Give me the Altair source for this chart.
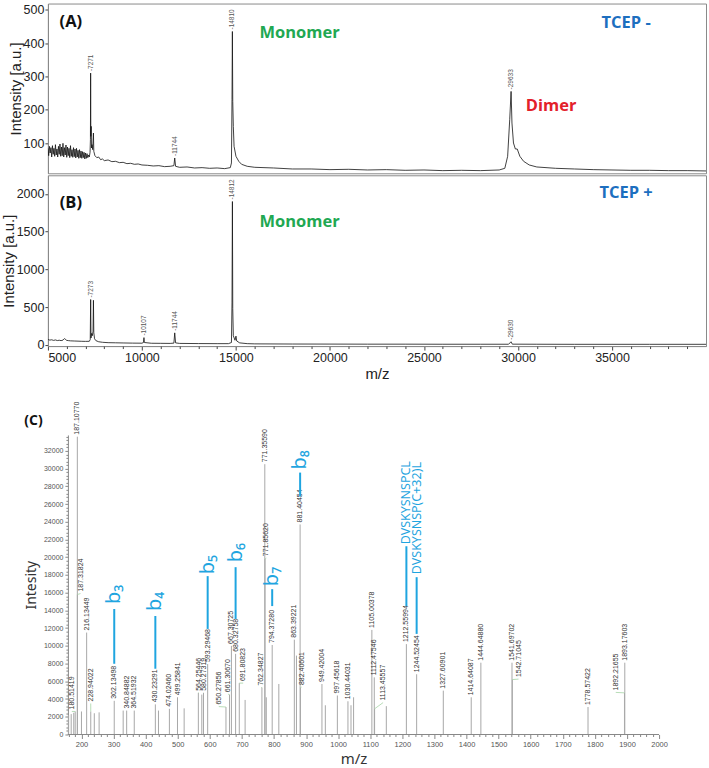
import altair as alt
import pandas as pd

# ---------------- Panel (A): TCEP - ----------------
a_mz = [5000, 5040, 5080, 5120, 5160, 5200, 5240, 5280, 5320, 5360, 5400, 5440, 5480, 5520, 5560,
        5600, 5640, 5680, 5720, 5760, 5800, 5840, 5880, 5920, 5960, 6000, 6040, 6080, 6120, 6160,
        6200, 6240, 6280, 6320, 6360, 6400, 6440, 6480, 6520, 6560, 6600, 6640, 6680, 6720, 6760,
        6800, 6840, 6880, 6920, 6960, 7000, 7040, 7080, 7120, 7160, 7200, 7240, 7260, 7271, 7282,
        7300, 7320, 7345, 7380, 7420, 7440, 7500, 7600, 7700, 7800, 7900, 8000, 8200, 8400, 8600,
        8800, 9000, 9200, 9400, 9600, 9800, 10000, 10300, 10600, 10900, 11200, 11500, 11700, 11744, 11790,
        12000, 12400, 12800, 13200, 13600, 14000, 14400, 14700, 14760, 14790, 14810, 14830, 14860, 14900, 15000,
        15150, 15300, 15600, 16000, 17000, 18000, 19000, 20000, 21000, 22000, 23000, 24000, 25000, 26000, 27000,
        28000, 29000, 29300, 29450, 29560, 29633, 29680, 29760, 29860, 29960, 30100, 30300, 30600, 31000, 32000,
        33000, 34000, 35000, 36000, 37000, 38000, 39000, 40000]
a_int = [84, 62, 90, 70, 86, 58, 92, 66, 84, 60, 95, 64, 82, 58, 90,
         66, 97, 60, 88, 62, 99, 58, 86, 64, 94, 57, 88, 62, 84, 56,
         92, 60, 80, 57, 86, 59, 82, 55, 84, 58, 78, 54, 80, 56, 76,
         54, 74, 56, 72, 52, 70, 54, 68, 56, 64, 58, 72, 110, 310, 120,
         150, 85, 95, 80, 130, 75, 62, 56, 58, 50, 52, 47, 49, 44, 45,
         41, 42, 38, 39, 36, 37, 34, 33, 31, 32, 29, 30, 32, 55, 30,
         27, 28, 25, 26, 24, 25, 23, 26, 40, 230, 435, 225, 150, 90, 60,
         45, 36, 30, 27, 25, 22, 22, 20, 21, 19, 20, 18, 19, 17, 18,
         17, 19, 24, 60, 170, 255, 160, 100, 82, 82, 60, 45, 34, 28, 24,
         22, 20, 19, 18, 18, 17, 17, 16]
a_peak_mz = [7271, 11744, 14810, 29633]
a_peak_int = [310, 55, 435, 255]
a_peak_text = ["-7271", "-11744", "-14810", "-29633"]

# ---------------- Panel (B): TCEP + ----------------
b_mz = [5000, 5100, 5200, 5300, 5400, 5500, 5600, 5700, 5800, 5880, 5950, 6000, 6100, 6200, 6400,
        6600, 6800, 7000, 7200, 7250, 7273, 7290, 7320, 7360, 7400, 7420, 7440, 7480, 7550, 7700,
        7900, 8200, 8600, 9000, 9500, 10000, 10080, 10107, 10130, 10500, 11000, 11500, 11700, 11744, 11790,
        12000, 13000, 14000, 14600, 14760, 14790, 14812, 14830, 14860, 14950, 15000, 15040, 15200, 15600, 16000,
        18000, 20000, 22000, 24000, 26000, 28000, 29500, 29630, 29700, 31000, 33000, 35000, 37000, 40000]
b_int = [70, 62, 66, 58, 64, 56, 60, 55, 62, 82, 68, 58, 55, 52, 50,
         48, 46, 45, 46, 70, 600, 90, 150, 120, 180, 590, 160, 80, 55, 40,
         33, 28, 26, 24, 22, 21, 30, 95, 30, 20, 19, 18, 22, 158, 25,
         18, 16, 15, 15, 30, 555, 1900, 480, 120, 60, 115, 50, 25, 15, 12,
         10, 9, 8, 8, 7, 7, 7, 40, 8, 7, 6, 6, 6, 6]
b_peak_mz = [7273, 10107, 11744, 14812, 29630]
b_peak_int = [600, 95, 158, 1900, 40]
b_peak_text = ["-7273", "-10107", "-11744", "-14812", "-29630"]

# panel annotations (data coordinates)
a_note_text = ["(A)", "Monomer", "TCEP -", "Dimer"]
a_note_mz = [6221, 18383, 35750, 31765]
a_note_int = [465, 430, 462, 212]
b_note_text = ["(B)", "Monomer", "TCEP +"]
b_note_mz = [6221, 18383, 35750]
b_note_int = [1877, 1632, 2009]
note_colors = {"(A)": "#111111", "(B)": "#111111", "Monomer": "#21a852",
               "TCEP -": "#1d6fbf", "TCEP +": "#1d6fbf", "Dimer": "#e3202a"}

# axis tick values
ab_major_x = [5000, 10000, 15000, 20000, 25000, 30000, 35000]
ab_minor_x = [v for v in range(6000, 40000, 1000) if v % 5000 != 0]

# ---------------- Panel (C): MS/MS ----------------
c_lab_text = ["180.51419", "187.10770", "187.31824", "216.13449", "228.94022", "302.13498", "340.84882",
              "364.51932", "430.23291", "474.02460", "499.25841", "564.25446", "580.27319", "593.29468",
              "650.27856", "661.30670", "667.30725", "680.32758", "691.80823", "762.34827", "771.35590",
              "771.85620", "794.37280", "863.39221", "881.40454", "882.40601", "949.42004", "997.45618",
              "1030.44031", "1105.00378", "1112.47546", "1113.45557", "1212.55994", "1244.52454",
              "1327.60901", "1414.64087", "1444.64880", "1541.69702", "1542.71045", "1778.57422",
              "1892.21655", "1893.17603"]
c_lab_mz = [180.51419, 187.10770, 187.31824, 216.13449, 228.94022, 302.13498, 340.84882,
            364.51932, 430.23291, 474.02460, 499.25841, 564.25446, 580.27319, 593.29468,
            650.27856, 661.30670, 667.30725, 680.32758, 691.80823, 762.34827, 771.35590,
            771.85620, 794.37280, 863.39221, 881.40454, 882.40601, 949.42004, 997.45618,
            1030.44031, 1105.00378, 1112.47546, 1113.45557, 1212.55994, 1244.52454,
            1327.60901, 1414.64087, 1444.64880, 1541.69702, 1542.71045, 1778.57422,
            1892.21655, 1893.17603]
c_lab_int = [2600, 33600, 15800, 11500, 2600, 3800, 2700,
             2700, 3400, 2900, 4200, 4700, 4700, 7950,
             3100, 4500, 10000, 9100, 5800, 5300, 30500,
             19800, 10100, 10700, 23700, 5300, 5700, 4400,
             3750, 11800, 6450, 2900, 10200, 6800,
             4950, 4200, 8100, 8100, 6200, 3100,
             4700, 8100]
# where each peak label sits (m/z, intensity)
c_lab_x = [170, 187.1, 197, 216.1, 228.9, 302.1, 340.8,
           364.5, 430.2, 474.0, 499.3, 566, 581, 593.3,
           628, 657, 667.3, 680.3, 704, 760, 771.4,
           776, 794.4, 863.4, 881.4, 886, 949.4, 997.5,
           1030.4, 1105.0, 1112.5, 1140, 1212.6, 1244.5,
           1327.6, 1414.6, 1444.6, 1541.7, 1562, 1778.6,
           1865, 1893.2]
c_lab_y = [2600, 33600, 15900, 11500, 3500, 3800, 2700,
           2700, 3400, 2900, 4200, 4700, 4700, 7950,
           3150, 4550, 10000, 9100, 5800, 5300, 30500,
           19900, 10100, 10700, 23700, 5350, 5700, 4400,
           3750, 11800, 6450, 3600, 10200, 6800,
           4950, 4200, 8100, 8100, 6250, 3100,
           4750, 8100]
c_other_mz = [160, 168, 176, 200, 240, 255, 330, 440, 520, 575, 710, 776, 815, 870, 960, 1040, 1048, 1150]
c_other_int = [2200, 2300, 2450, 2600, 2400, 2500, 2700, 2700, 2950, 4500, 3900, 4200, 5700, 8900, 3300, 3300, 4200, 3200]

ann_text = ["b\u2083", "b\u2084", "b\u2085", "b\u2086", "b\u2087", "b\u2088",
            "DVSKYSNSPCL", "DVSKYSNSP(C+32)L"]
ann_mz = [302.13, 430.23, 593.29, 680.33, 794.37, 881.40, 1212.56, 1244.52]
ann_line_lo = [7980, 7420, 11910, 13030, 14490, 26850, 14490, 11350]
ann_line_hi = [14160, 13370, 17870, 18880, 16400, 29550, 21240, 17750]
ann_text_y = [14720, 13930, 18090, 19440, 16740, 29890, 21460, 18090]

c_major_x = list(range(200, 2001, 100))
c_minor_x = [v for v in range(160, 2000, 20) if v % 100 != 0]
c_major_y = list(range(0, 32001, 2000))
c_minor_y = [v for v in range(400, 33601, 400) if v % 2000 != 0]

c_axis_start = 157.4
c_panel_label = "(C)"
c_panel_label_mz = 50.4
c_panel_label_int = 35400

# ================= build =================
W = 659
xAB = alt.Scale(domain=[5000, 40000], nice=False, zero=False)
yA = alt.Scale(domain=[9, 519], nice=False, zero=False)
yB = alt.Scale(domain=[-17, 2248], nice=False, zero=False)
LAB_FONT = "Liberation Sans"
C_FONT = "Noto Sans"


def yaxis_ab(values):
    return alt.Axis(values=values, title="Intensity [a.u.]", labelFontSize=12.5, titleFontSize=15,
                    tickSize=3, labelPadding=1, titlePadding=0, grid=False, domainColor="#8a8a8a",
                    tickColor="#444444", labelColor="#222222", titleColor="#222222",
                    titleFontWeight="normal", labelFont=LAB_FONT, titleFont=LAB_FONT, format="d",
                    labelOverlap=False)


dfA = pd.DataFrame({"mz": a_mz, "inten": a_int})
dfA_pk = pd.DataFrame({"mz": a_peak_mz, "inten": a_peak_int, "t": a_peak_text})
dfA_nt = pd.DataFrame({"mz": a_note_mz, "inten": a_note_int, "t": a_note_text})
dfA_nt["c"] = dfA_nt["t"].map(note_colors)

dfB = pd.DataFrame({"mz": b_mz, "inten": b_int})
dfB_pk = pd.DataFrame({"mz": b_peak_mz, "inten": b_peak_int, "t": b_peak_text})
dfB_nt = pd.DataFrame({"mz": b_note_mz, "inten": b_note_int, "t": b_note_text})
dfB_nt["c"] = dfB_nt["t"].map(note_colors)

xaxisB = alt.Axis(values=ab_major_x, format="d", labelFontSize=12.5, labelColor="#222222",
                  labelFont=LAB_FONT, labelOverlap=False, tickSize=4, tickColor="#444444",
                  domainColor="#8a8a8a", grid=False, labelPadding=1,
                  title="m/z", titleFontSize=15, titleFontWeight="normal", titleFont=LAB_FONT,
                  titleColor="#222222", titlePadding=3, orient="bottom")
xaxisB_minor = alt.Axis(values=ab_minor_x, labels=False, domain=False, tickSize=2.5,
                        tickColor="#444444", grid=False, title=None, orient="bottom")


def spectrum_panel(df, dfpk, dfnt, yscale, yvalues, with_x):
    xax = xaxisB if with_x else None
    line = alt.Chart(df).mark_line(color="#111111", strokeWidth=0.8, clip=True).encode(
        x=alt.X("mz:Q", scale=xAB, axis=xax, title="m/z"),
        y=alt.Y("inten:Q", scale=yscale, axis=yaxis_ab(yvalues)),
    )
    pk = alt.Chart(dfpk).mark_text(angle=270, align="left", baseline="middle", dx=2,
                                   fontSize=6.5, color="#555555", font=LAB_FONT).encode(
        x=alt.X("mz:Q", scale=xAB, axis=None), y=alt.Y("inten:Q", scale=yscale), text="t:N")
    nt = alt.Chart(dfnt).mark_text(align="center", baseline="middle", fontSize=16.5,
                                   fontWeight="bold", font="Open Sans").encode(
        x=alt.X("mz:Q", scale=xAB, axis=None), y=alt.Y("inten:Q", scale=yscale), text="t:N",
        color=alt.Color("c:N", scale=None))
    layers = [line, pk, nt]
    if with_x:
        minor = alt.Chart(pd.DataFrame({"mz": ab_minor_x})).mark_point(opacity=0).encode(
            x=alt.X("mz:Q", scale=xAB, axis=xaxisB_minor))
        layers.append(minor)
    lay = alt.layer(*layers)
    if with_x:
        lay = lay.resolve_axis(x="independent")
    return lay.properties(width=W, view=alt.ViewBackground(stroke="#8a8a8a", strokeWidth=1))


panelA = spectrum_panel(dfA, dfA_pk, dfA_nt, yA, [100, 200, 300, 400, 500], False).properties(height=170)
panelB = spectrum_panel(dfB, dfB_pk, dfB_nt, yB, [0, 500, 1000, 1500, 2000], True).properties(height=171)

# ---- panel C
WC = 612
xC = alt.Scale(domain=[95.5, 2000], nice=False, zero=False)
yC = alt.Scale(domain=[0, 33800], nice=False, zero=False)

xaxisC = alt.Axis(values=c_major_x, format="d", labelFontSize=7.5, labelColor="#555555",
                  labelFont=LAB_FONT, labelOverlap=False, labelFlush=False, domain=False,
                  tickSize=4, tickColor="#888888", grid=False, labelPadding=2,
                  title="m/z", titleFontSize=15, titleFontWeight="normal", titleFont=C_FONT,
                  titleColor="#333333", titlePadding=4, orient="bottom")
xaxisC_minor = alt.Axis(values=c_minor_x, labels=False, domain=False, tickSize=2,
                        tickColor="#888888", grid=False, title=None, orient="bottom")
yaxisC = alt.Axis(values=c_major_y, format="d", labelFontSize=7, labelColor="#555555",
                  labelFont=LAB_FONT, labelOverlap=False, tickSize=3, tickColor="#888888",
                  domainColor="#888888", grid=False, labelPadding=2, offset=-20,
                  title="Intesity", titleFontSize=14, titleFontWeight="normal", titleFont=C_FONT,
                  titleColor="#333333", titlePadding=5, orient="left")
yaxisC_minor = alt.Axis(values=c_minor_y, labels=False, domain=False, tickSize=2, offset=-20,
                        tickColor="#888888", grid=False, title=None, orient="left")

df_lab = pd.DataFrame({"mz": c_lab_mz, "inten": c_lab_int, "t": c_lab_text,
                       "lx": c_lab_x, "ly": c_lab_y})
df_other = pd.DataFrame({"mz": c_other_mz, "inten": c_other_int})
df_peaks = pd.concat([df_lab[["mz", "inten"]], df_other], ignore_index=True)
df_peaks["base"] = 0
df_lead = df_lab[(df_lab["lx"].round(1) != df_lab["mz"].round(1)) | (df_lab["ly"] != df_lab["inten"])]
df_ann = pd.DataFrame({"mz": ann_mz, "lo": ann_line_lo, "hi": ann_line_hi,
                       "ty": ann_text_y, "t": ann_text})
df_ann["big"] = df_ann["t"].str.len() < 4
df_axis = pd.DataFrame({"mz": [c_axis_start], "mz2": [2000], "inten": [0]})
df_plab = pd.DataFrame({"mz": [c_panel_label_mz], "inten": [c_panel_label_int], "t": [c_panel_label]})
df_minor = pd.DataFrame({"mz": [c_minor_x[0]], "inten": [c_minor_y[0]]})


def cx(field):
    return alt.X(field, scale=xC, axis=None)


def cy(field):
    return alt.Y(field, scale=yC, axis=None)


c_peaks = alt.Chart(df_peaks).mark_rule(color="#a8a8a8", strokeWidth=1).encode(
    x=alt.X("mz:Q", scale=xC, axis=xaxisC),
    y=alt.Y("inten:Q", scale=yC, axis=yaxisC),
    y2="base:Q")
c_minor = alt.Chart(df_minor).mark_point(opacity=0).encode(
    x=alt.X("mz:Q", scale=xC, axis=xaxisC_minor),
    y=alt.Y("inten:Q", scale=yC, axis=yaxisC_minor))
c_axisline = alt.Chart(df_axis).mark_rule(color="#888888", strokeWidth=1).encode(
    x=cx("mz:Q"), x2="mz2:Q", y=cy("inten:Q"))
c_lead = alt.Chart(df_lead).mark_rule(color="#a6d4a6", strokeWidth=0.8).encode(
    x=cx("mz:Q"), x2="lx:Q", y=cy("inten:Q"), y2="ly:Q")
c_labels = alt.Chart(df_lab).mark_text(angle=270, align="left", baseline="middle", dx=2,
                                       fontSize=7, color="#333333", font=LAB_FONT).encode(
    x=cx("lx:Q"), y=cy("ly:Q"), text="t:N")
c_ann_rule = alt.Chart(df_ann).mark_rule(color="#1fa5e0", strokeWidth=2).encode(
    x=cx("mz:Q"), y=cy("lo:Q"), y2="hi:Q")
c_ann_big = alt.Chart(df_ann[df_ann["big"]]).mark_text(
    angle=270, align="left", baseline="middle", fontSize=20, color="#1fa5e0", font=C_FONT).encode(
    x=cx("mz:Q"), y=cy("ty:Q"), text="t:N")
c_ann_seq = alt.Chart(df_ann[~df_ann["big"]]).mark_text(
    angle=270, align="left", baseline="middle", fontSize=12.5, color="#1fa5e0", font=C_FONT).encode(
    x=cx("mz:Q"), y=cy("ty:Q"), text="t:N")
c_plab = alt.Chart(df_plab).mark_text(align="center", baseline="middle", fontSize=14,
                                      fontWeight="bold", color="#111111", font="Open Sans").encode(
    x=cx("mz:Q"), y=cy("inten:Q"), text="t:N")

panelC = alt.layer(c_peaks, c_minor, c_axisline, c_lead, c_labels, c_ann_rule, c_ann_big, c_ann_seq,
                   c_plab).resolve_axis(x="independent", y="independent").properties(width=WC, height=300)

top = alt.vconcat(panelA, panelB, spacing=0)
chart = alt.vconcat(top, panelC, spacing=19).properties(
    padding={"left": 0, "top": 2, "right": 2, "bottom": 0}, background="white"
).configure_view(strokeWidth=0)

chart.save("out.html", embed_options={"renderer": "svg", "actions": False})
